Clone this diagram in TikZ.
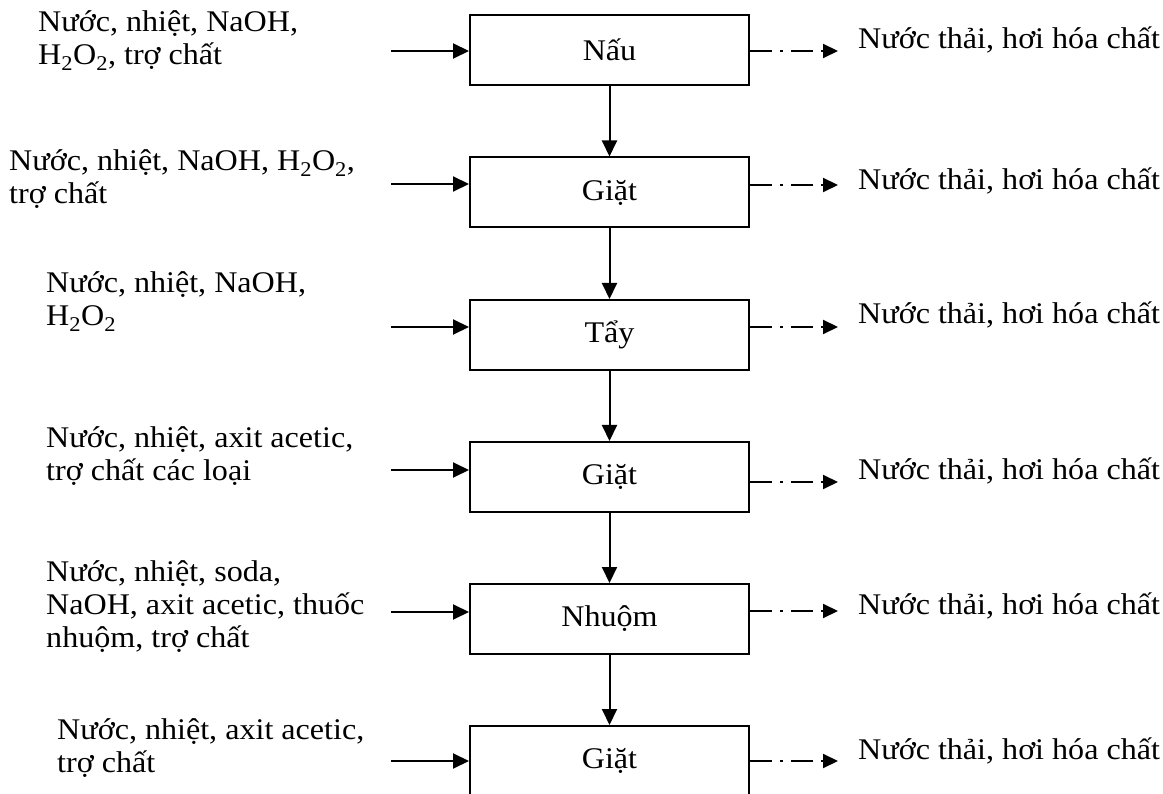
\documentclass[tikz,border=0pt]{standalone}
\usepackage{fontspec}
\setmainfont{Liberation Serif}[FakeStretch=1.07]
\usetikzlibrary{arrows.meta}
\begin{document}
\begin{tikzpicture}[x=1pt,y=-1pt,
  every node/.style={font=\fontsize{30}{33}\selectfont},
  stage/.style={draw, line width=2pt, minimum width=279pt, minimum height=70pt, inner sep=0pt},
  feed/.style={align=left, anchor=base west, inner sep=0pt},
  waste/.style={anchor=base west, inner sep=0pt},
  flow/.style={line width=2pt, -{Triangle[length=16pt,width=15pt]}},
  discharge/.style={line width=2pt, dash pattern=on 22pt off 8pt on 3pt off 8pt,
    -{Triangle[length=15pt,width=14pt]}}]
\useasboundingbox (0,0) rectangle (1163,794);
\clip (0,0) rectangle (1163,794);

% process stages
\node[stage] (b1) at (609.5,50)    {Nấu};
\node[stage] (b2) at (609.5,192.5) {Giặt};
\node[stage] (b3) at (609.5,335)   {Tẩy};
\node[stage] (b4) at (609.5,477)   {Giặt};
\node[stage] (b5) at (609.5,619)   {Nhuộm};
\node[stage] (b6) at (609.5,761)   {Giặt};

% main flow
\draw[flow] (b1.south) -- (b2.north);
\draw[flow] (b2.south) -- (b3.north);
\draw[flow] (b3.south) -- (b4.north);
\draw[flow] (b4.south) -- (b5.north);
\draw[flow] (b5.south) -- (b6.north);

% inputs (anchored at the baseline of the last line)
\node[feed] (f1) at (38,65)  {Nước, nhiệt, NaOH,\\H\textsubscript{2}O\textsubscript{2}, trợ chất};
\node[feed] (f2) at (9,204)  {Nước, nhiệt, NaOH, H\textsubscript{2}O\textsubscript{2},\\trợ chất};
\node[feed] (f3) at (46,326) {Nước, nhiệt, NaOH,\\H\textsubscript{2}O\textsubscript{2}};
\node[feed] (f4) at (46,481) {Nước, nhiệt, axit acetic,\\trợ chất các loại};
\node[feed] (f5) at (46,647) {Nước, nhiệt, soda,\\NaOH, axit acetic, thuốc\\nhuộm, trợ chất};
\node[feed] (f6) at (57,772) {Nước, nhiệt, axit acetic,\\trợ chất};

\coordinate (i1) at (391,51);
\coordinate (i2) at (391,184);
\coordinate (i3) at (391,327);
\coordinate (i4) at (391,470);
\coordinate (i5) at (391,612);
\coordinate (i6) at (391,761);
\draw[flow] (i1) -- (b1.west |- i1);
\draw[flow] (i2) -- (b2.west |- i2);
\draw[flow] (i3) -- (b3.west |- i3);
\draw[flow] (i4) -- (b4.west |- i4);
\draw[flow] (i5) -- (b5.west |- i5);
\draw[flow] (i6) -- (b6.west |- i6);

% outputs
\coordinate (o1) at (838,51);
\coordinate (o2) at (838,185);
\coordinate (o3) at (838,327);
\coordinate (o4) at (838,482);
\coordinate (o5) at (838,611);
\coordinate (o6) at (838,761);
\draw[discharge] (b1.east |- o1) -- (o1);
\draw[discharge] (b2.east |- o2) -- (o2);
\draw[discharge] (b3.east |- o3) -- (o3);
\draw[discharge] (b4.east |- o4) -- (o4);
\draw[discharge] (b5.east |- o5) -- (o5);
\draw[discharge] (b6.east |- o6) -- (o6);

\node[waste] (w1) at (858,49)  {Nước thải, hơi hóa chất};
\node[waste] (w2) at (858,190) {Nước thải, hơi hóa chất};
\node[waste] (w3) at (858,324) {Nước thải, hơi hóa chất};
\node[waste] (w4) at (858,479) {Nước thải, hơi hóa chất};
\node[waste] (w5) at (858,614) {Nước thải, hơi hóa chất};
\node[waste] (w6) at (858,759) {Nước thải, hơi hóa chất};
\end{tikzpicture}
\end{document}
